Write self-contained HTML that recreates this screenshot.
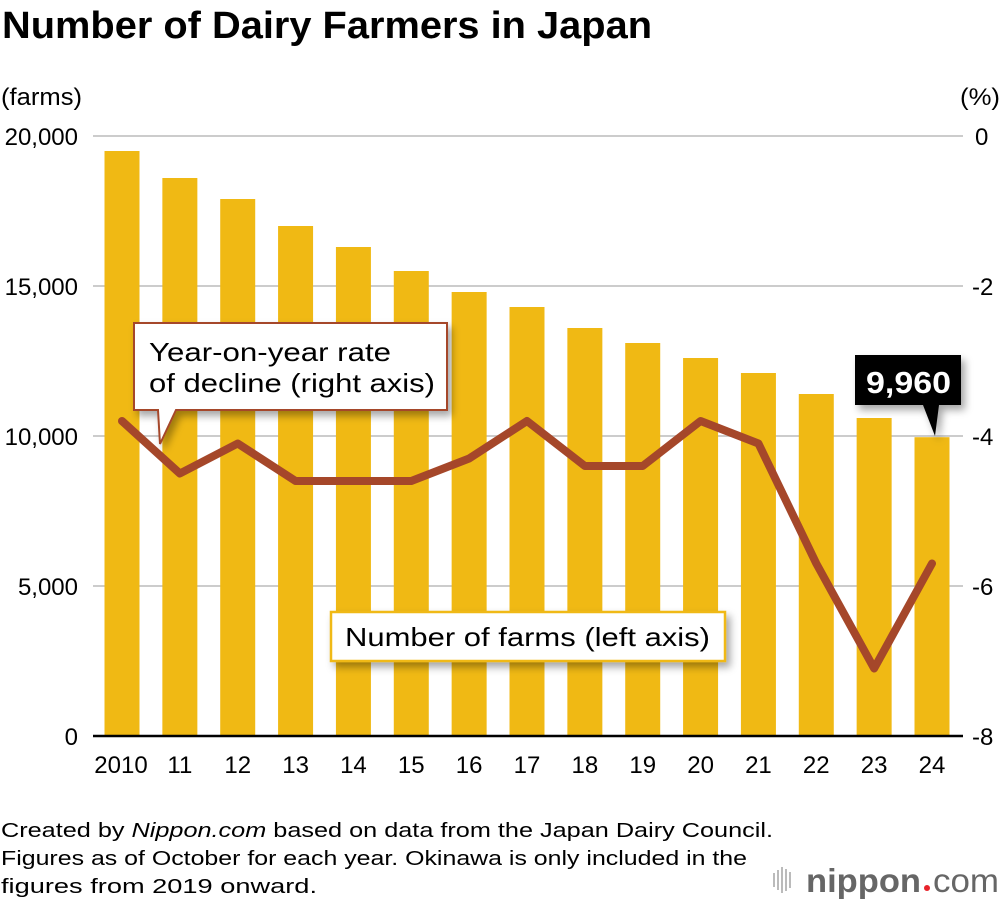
<!DOCTYPE html>
<html><head><meta charset="utf-8"><style>
html,body{margin:0;padding:0;background:#fff;}
svg{display:block;font-family:"Liberation Sans",Arial,sans-serif;}
</style></head><body>
<svg id="chart" width="1000" height="902" viewBox="0 0 1000 902" xmlns="http://www.w3.org/2000/svg">
<defs>
<filter id="sh" x="-20%" y="-20%" width="150%" height="160%"><feDropShadow dx="4" dy="5" stdDeviation="4" flood-color="#000" flood-opacity="0.35"/></filter>
</defs>
<text x="2" y="38" font-size="38" font-weight="bold" textLength="650" lengthAdjust="spacingAndGlyphs">Number of Dairy Farmers in Japan</text>
<text x="1" y="105" font-size="24" textLength="81" lengthAdjust="spacingAndGlyphs">(farms)</text>
<text x="960" y="105" font-size="24" textLength="40" lengthAdjust="spacingAndGlyphs">(%)</text>
<g id="grid"></g>
<g id="bars"></g>
<line x1="93" y1="736" x2="963" y2="736" stroke="#000" stroke-width="2.5"/>
<g id="xlabels"></g>
<g id="ylabels"></g>
<polyline id="rate-line" fill="none" stroke="#a5472a" stroke-width="8" stroke-linejoin="round" stroke-linecap="round"/>
<g filter="url(#sh)">
<path d="M134,323 H447 V410 H176 L160,444 L158,410 H134 Z" fill="#fff" stroke="#a5472a" stroke-width="2"/>
</g>
<text font-size="26"><tspan x="149" y="361" textLength="242" lengthAdjust="spacingAndGlyphs">Year-on-year rate</tspan><tspan x="149" y="392" textLength="286" lengthAdjust="spacingAndGlyphs">of decline (right axis)</tspan></text>
<g filter="url(#sh)">
<rect x="331" y="612" width="394" height="49" fill="#fff" stroke="#f0b914" stroke-width="2.5"/>
</g>
<text x="345" y="646" font-size="26" textLength="365" lengthAdjust="spacingAndGlyphs">Number of farms (left axis)</text>
<g filter="url(#sh)">
<path d="M855,355 H961 V405 H939 L935,436 L923,405 H855 Z" fill="#000"/>
</g>
<text x="866" y="393" font-size="31" font-weight="bold" fill="#fff" textLength="85" lengthAdjust="spacingAndGlyphs">9,960</text>
<text font-size="20.5"><tspan x="1" y="837" textLength="772" lengthAdjust="spacingAndGlyphs">Created by <tspan font-style="italic">Nippon.com</tspan> based on data from the Japan Dairy Council.</tspan><tspan x="1" y="865" textLength="746" lengthAdjust="spacingAndGlyphs">Figures as of October for each year. Okinawa is only included in the</tspan><tspan x="1" y="893" textLength="316" lengthAdjust="spacingAndGlyphs">figures from 2019 onward.</tspan></text>
<g>
<g fill="#bbb"><rect x="773" y="873" width="2" height="14"/><rect x="777" y="870" width="2" height="20"/><rect x="781" y="867" width="2" height="26"/><rect x="785" y="869" width="2" height="22"/><rect x="789" y="872" width="2" height="16"/></g>
<text x="806" y="892" font-size="33" font-weight="bold" fill="#666" textLength="115" lengthAdjust="spacingAndGlyphs">nippon</text>
<circle cx="927" cy="888" r="3" fill="#e8232b"/>
<text x="933" y="892" font-size="33" fill="#666" textLength="66" lengthAdjust="spacingAndGlyphs">com</text>
</g>
</svg>
<script>
const years = ["2010","11","12","13","14","15","16","17","18","19","20","21","22","23","24"];
const farms = [19500,18600,17900,17000,16300,15500,14800,14300,13600,13100,12600,12100,11400,10600,9960];
const rates = [-3.8,-4.5,-4.1,-4.6,-4.6,-4.6,-4.3,-3.8,-4.4,-4.4,-3.8,-4.1,-5.7,-7.1,-5.7];
const leftTicks = [0,5000,10000,15000,20000];
const leftTickLabels = ["0","5,000","10,000","15,000","20,000"];
const rightTicks = [0,-2,-4,-6,-8];
const rightTickLabels = ["0","-2","-4","-6","-8"];

const NS = "http://www.w3.org/2000/svg";
const yL = v => 736 - v * 600 / 20000;
const yR = v => 136 + v * 600 / -8;
const xC = i => 122 + i * (810 / 14);
function mk(tag, attrs, parent){const e=document.createElementNS(NS,tag);for(const k in attrs)e.setAttribute(k,attrs[k]);parent.appendChild(e);return e;}

const grid=document.getElementById('grid'), bars=document.getElementById('bars'),
 xl=document.getElementById('xlabels'), yl=document.getElementById('ylabels');
leftTicks.forEach((t,i)=>{
  if(t!==0){const g=mk('line',{x1:93,x2:963,y1:yL(t),y2:yL(t),stroke:'#ccc','stroke-width':2},grid);
  
  }
  const tx=mk('text',{x:78,y:yL(t)+9,'font-size':24,'text-anchor':'end'},yl);
  tx.textContent=leftTickLabels[i];
  
  
});
rightTicks.forEach((t,i)=>{
  const tx=mk('text',{x:t===0?975:972,y:yR(t)+9,'font-size':24},yl);
  tx.textContent=rightTickLabels[i];
  
  
});
farms.forEach((v,i)=>{
  const r=mk('rect',{x:xC(i)-17.5,y:yL(v),width:35,height:736-yL(v),fill:'#f0b914'},bars);
  
  
  const tx=mk('text',{x:xC(i)+(i===0?-1:0),y:773,'font-size':24,'text-anchor':'middle'},xl);
  tx.textContent=years[i];
  
  
});
document.getElementById('rate-line').setAttribute('points',rates.map((v,i)=>xC(i)+','+yR(v)).join(' '));
</script>
</body></html>
